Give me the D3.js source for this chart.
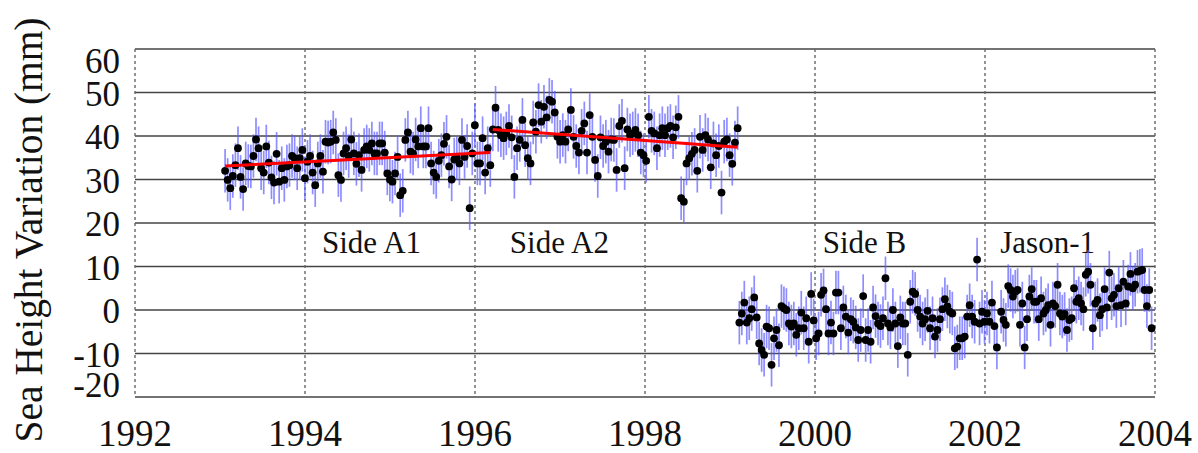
<!DOCTYPE html>
<html>
<head>
<meta charset="utf-8">
<script src="https://cdn.jsdelivr.net/npm/d3@7/dist/d3.min.js"></script>
<style>
  body { margin: 0; background: #fff; }
  text { font-family: "Liberation Serif", "Times New Roman", serif; fill: #111; }
</style>
</head>
<body>
<div id="chart"></div>
<script>
// tick labels
var yearTicks   = [1992, 1994, 1996, 1998, 2000, 2002, 2004];
var heightTicks = [60, 50, 40, 30, 20, 10, 0, -10, -20];

// sea height per cycle (mm); each block spans [first, last] date
var spanA1   = [1993.06, 1996.18];
var valuesA1 = [
    32.0, 29.9, 28.0, 30.8, 33.3, 37.2, 30.6, 27.8, 33.7, 33.1,
    33.0, 35.4, 39.2, 37.2, 32.6, 31.6, 37.6, 33.9, 30.5, 29.3,
    35.9, 29.5, 32.6, 29.9, 33.0, 33.3, 35.4, 34.9, 32.6, 34.9,
    36.8, 30.3, 34.1, 35.4, 31.6, 28.7, 33.7, 35.4, 31.8, 38.7,
    38.5, 38.7, 40.8, 39.1, 31.0, 29.9, 36.0, 37.2, 35.4, 39.2,
    36.0, 33.6, 35.6, 32.2, 36.8, 37.6, 36.8, 38.3, 36.0, 36.0,
    38.3, 38.3, 36.2, 31.4, 30.0, 29.5, 31.4, 35.2, 26.4, 27.4,
    39.1, 40.8, 36.4, 36.0, 39.2, 37.6, 41.8, 37.6, 37.6, 41.8,
    33.7, 31.6, 30.6, 34.3, 35.6, 38.2, 39.8, 33.0, 30.0, 34.6,
    34.9, 33.7, 39.1, 35.2, 37.7, 23.4, 36.0, 42.5, 33.7, 33.7,
    39.5, 31.6, 37.2, 33.3
];

var spanA2   = [1996.21, 1999.09];
var valuesA2 = [
    41.5, 46.5, 41.4, 40.2, 39.5, 40.6, 42.3, 39.7, 30.6, 37.2,
    39.1, 43.7, 37.9, 34.9, 33.7, 43.1, 41.0, 47.1, 43.3, 46.7,
    44.3, 48.3, 47.9, 45.4, 39.8, 38.7, 40.2, 38.7, 41.5, 46.0,
    39.8, 37.7, 36.2, 41.2, 42.9, 36.2, 44.8, 39.8, 34.5, 30.8,
    39.7, 37.7, 38.7, 36.4, 39.2, 39.1, 32.2, 42.3, 43.5, 32.6,
    41.5, 40.2, 40.6, 41.4, 40.2, 36.2, 35.6, 34.3, 44.4, 41.2,
    40.6, 37.2, 40.2, 41.8, 40.2, 41.8, 42.3, 39.7, 42.0, 44.4,
    25.7, 24.9, 33.7, 34.9, 35.9, 36.8, 32.0, 39.8, 36.8, 40.2,
    39.2, 32.8, 38.3, 35.6, 37.7, 27.0, 38.7, 39.2, 35.6, 33.6,
    38.5, 41.8
];

var spanB   = [1999.11, 2002.14];
var valuesB = [
    -2.9, -0.8,  1.7, -2.9, -1.9,  0.2,  2.9, -1.7, -7.7, -9.2,
   -10.3, -3.8, -4.2,-12.6, -6.5, -4.6, -8.1,  0.9,  0.4,  0.0,
    -3.1, -3.8, -3.1, -5.7, -4.2, -0.6, -4.2, -1.9, -7.3,  3.7,
    -2.4, -6.5, -5.4,  3.5,  4.5,  0.2, -5.4, -2.9, -5.4,  4.0,
     4.0, -4.2,  0.6, -1.5, -5.2, -2.1, -2.7, -4.0, -6.9, -4.6,
     3.2, -6.9, -4.6, -7.3,  0.6, -1.4, -3.1, -3.7, -1.9,  7.3,
    -3.1, -4.0,  0.0, -3.1, -8.3, -1.7, -3.1, -3.1,-10.3,  1.9,
     4.2,  3.7,  0.0, -1.5, -3.1, -2.1, -0.2, -4.2, -1.9, -6.1,
    -4.6, -2.1,  0.2,  2.5,  0.8, -0.4, -0.8, -8.8, -8.4, -6.5,
    -6.5, -6.1, -1.5,  1.1, -1.5, -2.7, 11.6, -3.1, -0.4, -2.7,
    -0.8, -2.7,  1.7, -3.7, -8.6
];

var spanJ   = [2002.19, 2003.96];
var valuesJ = [
    -0.4, -2.3, -3.4,  5.5,  4.6,  3.1,  4.2,  4.6, -3.4,  1.5,
    -8.6, -2.1,  3.1,  4.8,  1.9,  1.9, -2.1,  2.7, -0.8,  0.0,
     1.1, -3.4,  1.5,  0.9,  5.8, -0.8, -1.5, -0.9, -4.6, -2.3,
    -1.9,  5.0,  1.9,  2.7,  1.5,  0.2,  8.1,  8.8,  5.8, -4.2,
     1.5,  2.3, -1.2,  0.2,  4.8,  0.6,  8.6,  2.7,  3.5,  0.9,
     5.0,  1.1,  6.5,  1.5,  5.4,  8.3,  5.0,  5.8,  8.8,  9.0,
     9.2,  4.6,  0.9,  4.6, -4.2
];

var errorMm = 5;   // half length of the error bars

// fitted trends for Side A1 and Side A2
var trendA1 = [[1993.06, 33.1], [1996.18, 36.2]];
var trendA2 = [[1996.21, 41.5], [1999.09, 37.4]];

// phase names and where they are written
var phaseNames  = ['Side A1', 'Side A2', 'Side B', 'Jason-1'];
var phaseStarts = [1994.2, 1996.41, 2000.09, 2002.18];
var phaseLevel  = 13.1;


var W = 1198, H = 453,
    margin = { top: 49, right: 43, bottom: 56, left: 135 },
    width  = W - margin.left - margin.right,
    height = H - margin.top - margin.bottom;

var x = d3.scaleLinear().domain([1992, 2004]).range([0, width]),
    y = d3.scaleLinear().domain([-20, 60]).range([height, 0]);

function toPoints(span, values) {
    var step = (span[1] - span[0]) / (values.length - 1);
    return values.map(function (v, i) { return { t: span[0] + i * step, v: v }; });
}

var points = [].concat(
    toPoints(spanA1, valuesA1),
    toPoints(spanA2, valuesA2),
    toPoints(spanB, valuesB),
    toPoints(spanJ, valuesJ)
);

var svg = d3.select('#chart')
    .append('svg')
        .attr('width', W)
        .attr('height', H);

var chart = svg.append('g')
    .attr('transform', 'translate(' + margin.left + ',' + margin.top + ')');

// horizontal grid (top and bottom lines double as the frame)
chart.selectAll('.hgrid')
    .data(heightTicks)
    .enter().append('line')
        .attr('class', 'hgrid')
        .attr('x1', 0)
        .attr('x2', width)
        .attr('y1', function (d) { return y(d); })
        .attr('y2', function (d) { return y(d); })
        .attr('stroke', '#444')
        .attr('stroke-width', 1.6);

// vertical dashed lines, including both sides of the frame
chart.selectAll('.vgrid')
    .data(yearTicks)
    .enter().append('line')
        .attr('class', 'vgrid')
        .attr('x1', function (d) { return x(d); })
        .attr('x2', function (d) { return x(d); })
        .attr('y1', 0)
        .attr('y2', height)
        .attr('stroke', '#666')
        .attr('stroke-width', 1.4)
        .attr('stroke-dasharray', '3,3');

// y tick labels, the end ones pulled inside the frame
chart.selectAll('.ylab')
    .data(heightTicks)
    .enter().append('text')
        .attr('class', 'ylab')
        .attr('x', -15)
        .attr('y', function (d, i) {
            if (i === 0) return y(d) + 24;
            if (i === heightTicks.length - 1) return y(d);
            return y(d) + 13;
        })
        .attr('text-anchor', 'end')
        .attr('font-size', 35)
        .text(function (d) { return d; });

// x tick labels
chart.selectAll('.xlab')
    .data(yearTicks)
    .enter().append('text')
        .attr('class', 'xlab')
        .attr('x', function (d) { return x(d); })
        .attr('y', height + 49)
        .attr('text-anchor', 'middle')
        .attr('font-size', 37)
        .text(function (d) { return d; });

// axis title
svg.append('text')
    .attr('transform', 'translate(42,' + 230 + ') rotate(-90)')
    .attr('text-anchor', 'middle')
    .attr('font-size', 40)
    .attr('textLength', 425)
    .attr('lengthAdjust', 'spacingAndGlyphs')
    .text('Sea Height Variation (mm)');

// phase labels
chart.selectAll('.phase')
    .data(phaseNames)
    .enter().append('text')
        .attr('class', 'phase')
        .attr('x', function (d, i) { return x(phaseStarts[i]); })
        .attr('y', y(phaseLevel))
        .attr('font-size', 31)
        .text(function (d) { return d; });

// error bars
chart.append('g')
    .selectAll('line')
    .data(points)
    .enter().append('line')
        .attr('x1', function (d) { return x(d.t); })
        .attr('x2', function (d) { return x(d.t); })
        .attr('y1', function (d) { return y(d.v - errorMm); })
        .attr('y2', function (d) { return y(d.v + errorMm); })
        .attr('stroke', '#5c5cff')
        .attr('stroke-opacity', 0.7)
        .attr('stroke-width', 1.7);

// points
chart.append('g')
    .selectAll('circle')
    .data(points)
    .enter().append('circle')
        .attr('cx', function (d) { return x(d.t); })
        .attr('cy', function (d) { return y(d.v); })
        .attr('r', 3.9)
        .attr('fill', '#000');

// trend lines
var trendLine = d3.line()
    .x(function (d) { return x(d[0]); })
    .y(function (d) { return y(d[1]); });

chart.selectAll('.trend')
    .data([trendA1, trendA2])
    .enter().append('path')
        .attr('class', 'trend')
        .attr('d', trendLine)
        .attr('fill', 'none')
        .attr('stroke', '#f00')
        .attr('stroke-width', 3);
</script>
</body>
</html>
